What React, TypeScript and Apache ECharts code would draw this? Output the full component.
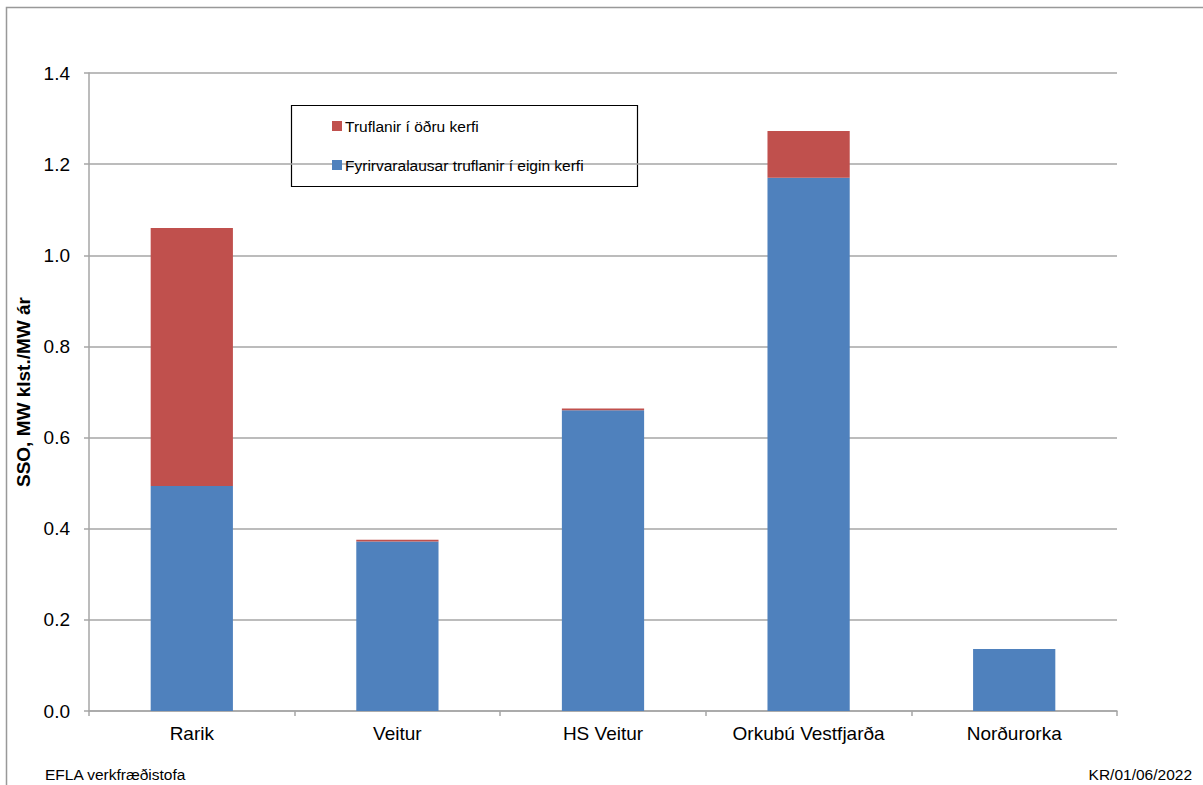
import React, { useEffect, useRef } from "react";
import * as echarts from "echarts";

const categories = ["Rarik", "Veitur", "HS Veitur", "Orkubú Vestfjarða", "Norðurorka"];
const ownSystem = [0.494, 0.372, 0.66, 1.17, 0.136];
const otherSystem = [0.566, 0.004, 0.004, 0.103, 0];
const yTicks = { min: 0, max: 1.4, interval: 0.2 };
const ownName = "Fyrirvaralausar truflanir í eigin kerfi";
const otherName = "Truflanir í öðru kerfi";
const yTitle = "SSO, MW klst./MW ár";
const footLeft = "EFLA verkfræðistofa";
const footRight = "KR/01/06/2022";

const FONT = "'Liberation Sans', Arial, sans-serif";
const GRAY = "#a6a6a6";

export default function App() {
  const ref = useRef<HTMLDivElement>(null);
  useEffect(() => {
    if (!ref.current) return;
    const chart = echarts.init(ref.current, null, { renderer: "svg" });
    chart.setOption({
      animation: false,
      backgroundColor: "#ffffff",
      textStyle: { fontFamily: FONT },
      grid: { left: 89, right: 86, top: 73, bottom: 74, containLabel: false },
      legend: {
        orient: "vertical",
        left: 327,
        top: 113,
        itemWidth: 10,
        itemHeight: 10,
        itemGap: 23,
        icon: "rect",
        data: [otherName, ownName],
        textStyle: { fontFamily: FONT, fontSize: 15.5, color: "#000", padding: [0, 0, 0, -2] },
      },
      xAxis: {
        type: "category",
        data: categories,
        axisLine: { lineStyle: { color: GRAY, width: 1.5 } },
        axisTick: { show: true, length: 5, alignWithLabel: false, lineStyle: { color: GRAY, width: 1.5 } },
        axisLabel: { fontSize: 19, color: "#000", margin: 13, fontFamily: FONT },
      },
      yAxis: {
        type: "value",
        min: yTicks.min,
        max: yTicks.max,
        interval: yTicks.interval,
        name: yTitle,
        nameLocation: "middle",
        nameGap: 48,
        nameTextStyle: { fontSize: 19, fontWeight: "bold", color: "#000", fontFamily: FONT },
        axisLine: { show: true, lineStyle: { color: GRAY, width: 1.5 } },
        axisTick: { show: true, length: 5, lineStyle: { color: GRAY, width: 1.5 } },
        axisLabel: {
          fontSize: 19,
          color: "#000",
          margin: 19,
          fontFamily: FONT,
          formatter: (v: number) => v.toFixed(1),
        },
        splitLine: { show: true, lineStyle: { color: GRAY, width: 1.5 } },
      },
      series: [
        {
          name: ownName,
          type: "bar",
          stack: "total",
          data: ownSystem,
          barWidth: "40%",
          itemStyle: { color: "#4F81BD" },
        },
        {
          name: otherName,
          type: "bar",
          stack: "total",
          data: otherSystem,
          barWidth: "40%",
          itemStyle: { color: "#C0504D" },
        },
      ],
      graphic: [
        {
          type: "rect",
          shape: { x: 6.5, y: 7.5, width: 1300, height: 1000 },
          style: { fill: "none", stroke: "#999999", lineWidth: 1.5 },
          silent: true,
          z: 100,
        },
        {
          type: "rect",
          shape: { x: 291.5, y: 105.5, width: 346, height: 81 },
          style: { fill: "#ffffff", stroke: "#000000", lineWidth: 1.2 },
          z: -1,
          zlevel: 0,
        },
        {
          type: "text",
          left: 45,
          top: 766,
          style: { text: footLeft, fontSize: 15.5, fill: "#000", fontFamily: FONT },
        },
        {
          type: "text",
          right: 11,
          top: 766,
          style: { text: footRight, fontSize: 15.5, fill: "#000", fontFamily: FONT },
        },
      ],
    });
    return () => chart.dispose();
  }, []);
  return (
    <div
      ref={ref}
      style={{ position: "absolute", left: 0, top: 0, width: 1203, height: 785 }}
    />
  );
}
